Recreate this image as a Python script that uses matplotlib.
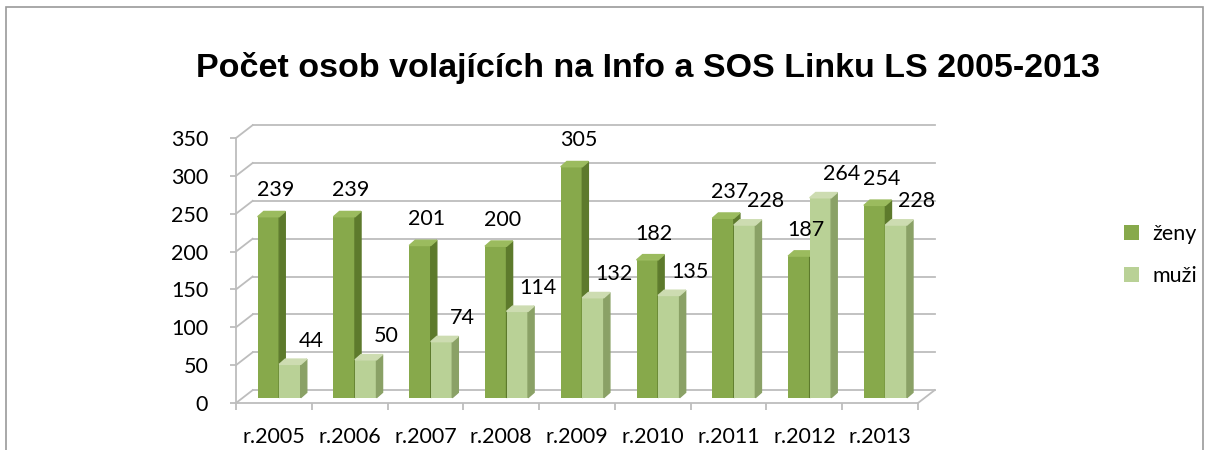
import matplotlib.pyplot as plt
from matplotlib.patches import Polygon, Rectangle, Patch

years = ['r.2005', 'r.2006', 'r.2007', 'r.2008', 'r.2009', 'r.2010', 'r.2011', 'r.2012', 'r.2013']
zeny = [239, 239, 201, 200, 305, 182, 237, 187, 254]
muzi = [44, 50, 74, 114, 132, 135, 228, 264, 228]
series_names = ['ženy', 'muži']
yticks = [0, 50, 100, 150, 200, 250, 300, 350]

# colours: front, side, top
dark = ('#87a94b', '#5d7a2c', '#9bbb5e')
light = ('#b9d196', '#8aa166', '#cddcb1')
grid_c = '#bdbdbd'
font = 'Lato'
fs = 15.5

# pseudo 3d geometry (data units)
WX, WY = 0.22, 17      # back wall offset
BX, BY = 0.07, 7       # bar plane offset
BW = 0.284             # bar width
DX, DY = 0.08, 7       # bar depth

fig = plt.figure(figsize=(12.1, 4.5), dpi=100)
ax = fig.add_axes([236 / 1210, 47 / 450, 682 / 1210, 265 / 450])
ax.set_xlim(0, len(years))
ax.set_ylim(0, 350)

# outer frame
fig.patches.append(Rectangle((6 / 1210, -0.1), 1197 / 1210, 1 - 7 / 450 + 0.1,
                             transform=fig.transFigure, fill=False,
                             edgecolor='#9a9a9a', lw=1.2))

n = len(years)
# back wall gridlines + left diagonals
for v in yticks:
    ax.plot([WX, n + WX], [v + WY, v + WY], color=grid_c, lw=1.3, clip_on=False, zorder=1)
    ax.plot([0, WX], [v, v + WY], color=grid_c, lw=1.3, clip_on=False, zorder=1)
# floor
ax.plot([n, n + WX], [0, WY], color=grid_c, lw=1.3, clip_on=False, zorder=1)


def draw_bars(vals, xoff, cols):
    xs = [i + 0.5 + BX + xoff for i in range(n)]
    ax.bar(xs, vals, width=BW, bottom=BY, color=cols[0], zorder=3, clip_on=False)
    for x, v in zip(xs, vals):
        r = x + BW / 2
        l = x - BW / 2
        top = BY + v
        ax.add_patch(Polygon([(r, BY), (r + DX, BY + DY), (r + DX, top + DY), (r, top)],
                             closed=True, color=cols[1], zorder=3, clip_on=False))
        ax.add_patch(Polygon([(l, top), (l + DX, top + DY), (r + DX, top + DY), (r, top)],
                             closed=True, color=cols[2], zorder=3, clip_on=False))
    return xs


xs_d = draw_bars(zeny, -BW / 2, dark)
xs_l = draw_bars(muzi, BW / 2, light)

# data labels
for x, v in zip(xs_d, zeny):
    ax.annotate(str(v), (x, BY + v), xytext=(5, 19), textcoords='offset points',
                ha='center', va='center', fontsize=fs, family=font, zorder=5)
for x, v in zip(xs_l, muzi):
    ax.annotate(str(v), (x, BY + v), xytext=(15, 17), textcoords='offset points',
                ha='center', va='center', fontsize=fs, family=font, zorder=5)

# axes styling
for s in ['top', 'right']:
    ax.spines[s].set_visible(False)
ax.spines['left'].set_color(grid_c)
ax.spines['bottom'].set_color(grid_c)
ax.spines['left'].set_linewidth(1.3)
ax.spines['bottom'].set_linewidth(1.3)
ax.set_yticks(yticks)
ax.set_yticklabels([str(t) for t in yticks], fontsize=fs, family=font)
ax.tick_params(axis='y', length=4, color=grid_c, width=1.3, pad=16)
ax.set_xticks(range(n + 1))
ax.set_xticklabels([])
ax.set_xticks([i + 0.5 for i in range(n)], minor=True)
ax.set_xticklabels(years, minor=True, fontsize=fs, family=font)
ax.tick_params(axis='x', which='major', length=5, color=grid_c, width=1.3)
ax.tick_params(axis='x', which='minor', length=0, pad=17)
ax.patch.set_visible(False)

fig.text(648 / 1210, 1 - 68 / 450, 'Počet osob volajících na Info a SOS Linku LS 2005-2013',
         ha='center', va='center', fontsize=24.5, weight='bold', family='Liberation Sans')

handles = [Patch(facecolor=dark[0]), Patch(facecolor=light[0])]
fig.legend(handles, series_names, loc='center left', bbox_to_anchor=(1105 / 1210, 1 - 255 / 450),
           frameon=False, prop={'family': font, 'size': fs}, handlelength=0.7, handleheight=0.7,
           labelspacing=1.0, handletextpad=0.6)

fig.savefig('out.png', dpi=100)
